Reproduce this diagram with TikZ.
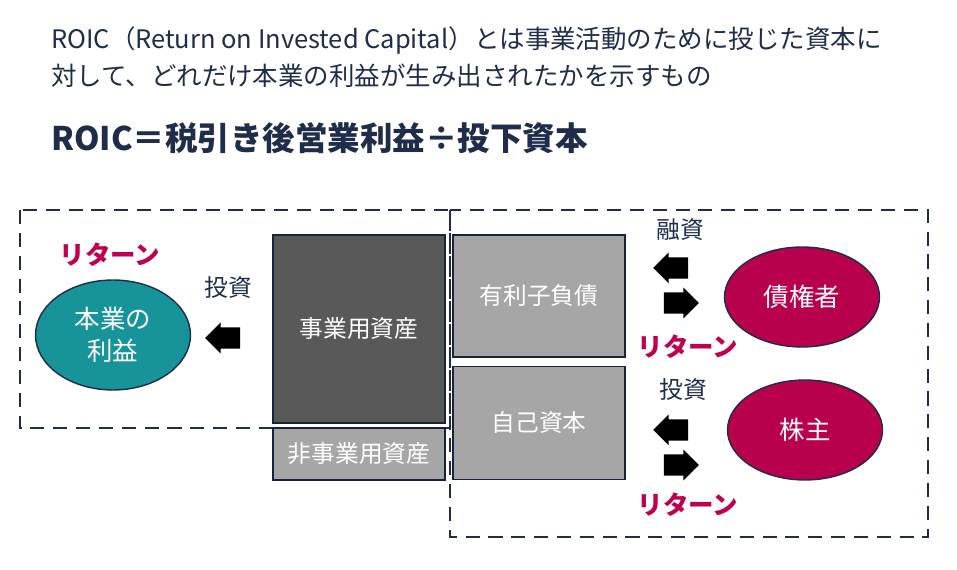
\documentclass[tikz,border=0pt]{standalone}
\usepackage{fontspec}
\setmainfont{Noto Sans CJK JP}
\usepackage{xcolor}
\usetikzlibrary{arrows.meta,positioning,shapes.geometric,shapes.arrows}
\definecolor{navy}{HTML}{1F2D4A}
\definecolor{ret}{HTML}{C0004E}
\definecolor{teal}{HTML}{17939A}
\definecolor{wine}{HTML}{B8004C}
\definecolor{darkbox}{HTML}{595959}
\definecolor{lightbox}{HTML}{A6A6A6}

\begin{document}
\begin{tikzpicture}[
    x=0.02cm, y=-0.02cm,
    box_style/.style={
        draw=navy!80!black,
        thick,
        align=center,
        font=\fontsize{13.5}{15}\selectfont
    },
    ell_style/.style={
        ellipse,
        draw=navy,
        thick,
        text=white,
        align=center,
        font=\fontsize{14.5}{18}\selectfont
    },
    ret_style/.style={
        text=ret,
        font=\fontsize{14.5}{16}\selectfont\bfseries
    },
    lab_style/.style={
        text=navy,
        font=\fontsize{13.5}{15}\selectfont
    },
    blk_style/.style={
        single arrow,
        fill=black,
        minimum width=0.62cm,
        minimum height=0.7cm,
        single arrow head extend=0.06cm,
        inner xsep=0pt,
        inner ysep=0.12cm
    },
    frame_style/.style={
        draw=navy,
        line width=1.4pt,
        dash pattern=on 8pt off 5pt
    }
]
\useasboundingbox (0,0) rectangle (957,570);

% --- Heading ---
\node[lab_style, anchor=west, align=left, font=\fontsize{14.5}{21}\selectfont] (intro) at (45,57)
    {ROIC（Return on Invested Capital）とは事業活動のために投じた資本に\\対して、どれだけ本業の利益が生み出されたかを示すもの};
\node[anchor=west, text=navy, font=\fontsize{18.5}{20}\selectfont\bfseries] (formula) at (45,138)
    {ROIC＝税引き後営業利益÷投下資本};

% --- Frames ---
\draw[frame_style] (20,210) rectangle (450,428);
\draw[frame_style] (450,210) rectangle (928,537);

% --- Balance sheet ---
\node[box_style, fill=darkbox, text=white, minimum width=3.44cm, minimum height=3.76cm] (ops) at (359,329) {事業用資産};
\node[box_style, fill=lightbox, text=white, minimum width=3.44cm, minimum height=1.04cm] (nonops) at (359,454) {非事業用資産};
\node[box_style, fill=lightbox, text=white, minimum width=3.44cm, minimum height=2.44cm] (debt) at (539,296) {有利子負債};
\node[box_style, fill=lightbox, text=white, minimum width=3.44cm, minimum height=2.26cm] (equity) at (539,423) {自己資本};

% --- Ellipses ---
\node[ell_style, fill=teal, minimum width=3.1cm, minimum height=2.2cm] (profit) at (113,335) {本業の\\利益};
\node[ell_style, fill=wine, minimum width=3.1cm, minimum height=2.0cm] (creditor) at (802,297) {債権者};
\node[ell_style, fill=wine, minimum width=3.1cm, minimum height=2.0cm] (holder) at (805,430) {株主};

% --- Left side ---
\node[ret_style] (ret0) at (110,255) {リターン};
\node[lab_style] (inv0) at (228,288) {投資};
\node[blk_style, shape border rotate=180] (arr0) at (228,338) {};

% --- Right side ---
\node[lab_style] (loan) at (680,230) {融資};
\node[blk_style, shape border rotate=180] (arr1) at (676,268) {};
\node[blk_style] (arr2) at (676,303) {};
\node[ret_style] (ret1) at (688,347) {リターン};

\node[lab_style] (inv1) at (683,390) {投資};
\node[blk_style, shape border rotate=180] (arr3) at (676,430) {};
\node[blk_style] (arr4) at (676,465) {};
\node[ret_style] (ret2) at (688,505) {リターン};

\end{tikzpicture}
\end{document}
